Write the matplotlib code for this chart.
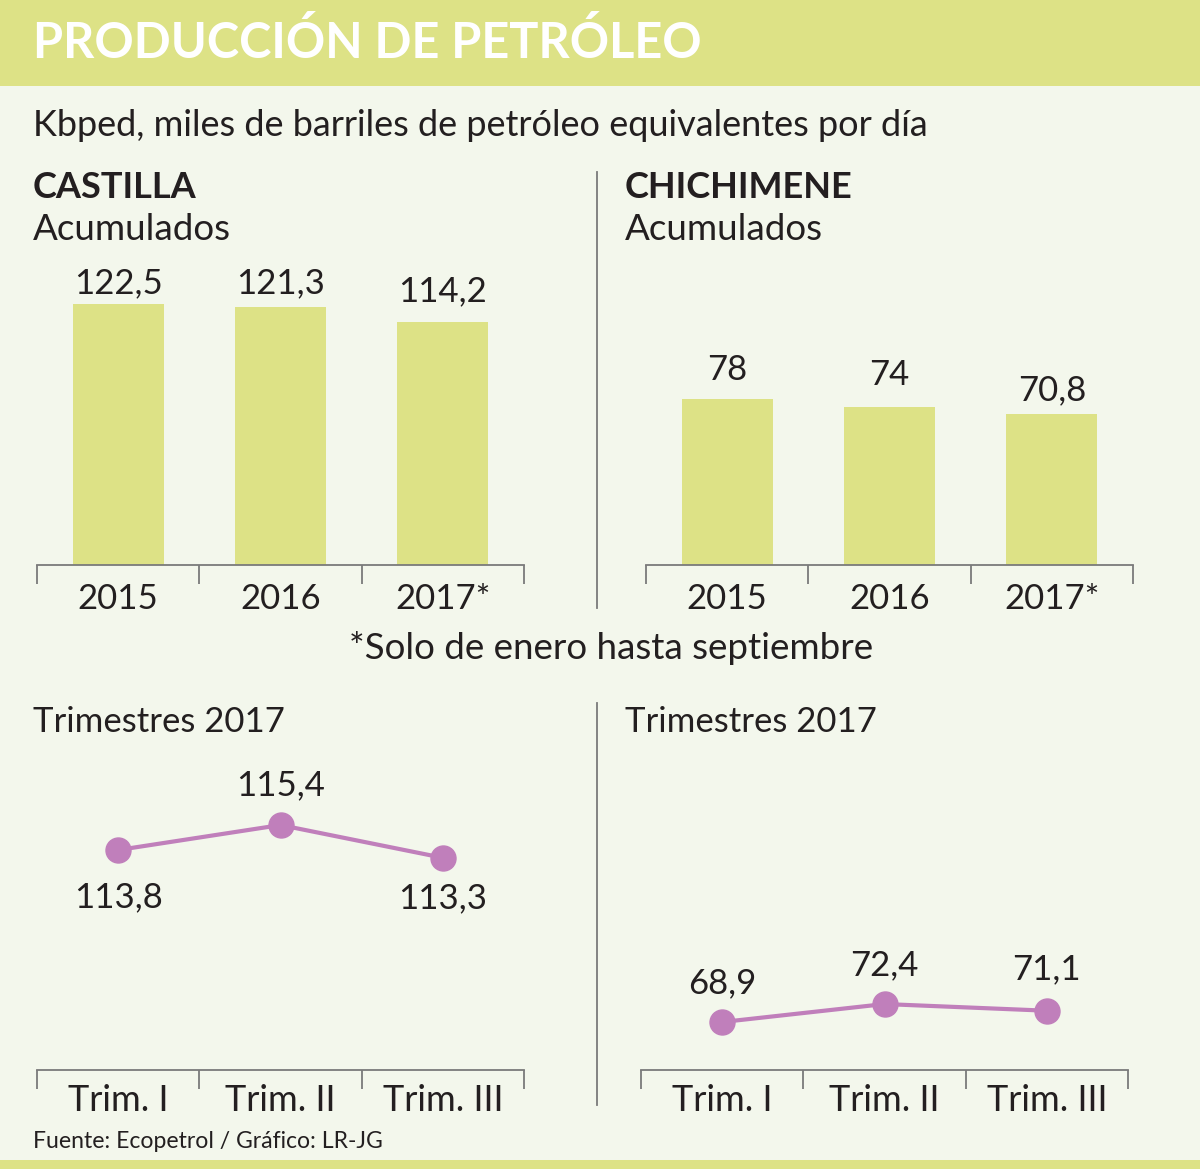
import matplotlib.pyplot as plt

# data
years = ['2015', '2016', '2017*']
castilla = [122.5, 121.3, 114.2]
chichimene = [78, 74, 70.8]
trims = ['Trim. I', 'Trim. II', 'Trim. III']
castilla_trim = [113.8, 115.4, 113.3]
chichimene_trim = [68.9, 72.4, 71.1]

castilla_lbl = ['122,5', '121,3', '114,2']
chichimene_lbl = ['78', '74', '70,8']
castilla_trim_lbl = ['113,8', '115,4', '113,3']
chichimene_trim_lbl = ['68,9', '72,4', '71,1']

W, H = 1200, 1169
bg = '#f3f7ec'
green = '#dde286'
purple = '#c07fbb'
ink = '#231f20'
grey = '#7a7a7a'
font = 'Lato'
lw8 = 'normal'

plt.rcParams['font.family'] = font

fig = plt.figure(figsize=(W/100, H/100), dpi=100, facecolor=bg)


def px_axes(x0, y0, x1, y1):
    # pixel box (top-left origin) -> axes
    return fig.add_axes([x0/W, 1-y1/H, (x1-x0)/W, (y1-y0)/H])


def txt(x, y, s, size, weight=lw8, color=ink, ha='left', va='center'):
    fig.text(x/W, 1-y/H, s, fontsize=size, fontweight=weight, color=color, ha=ha, va=va, family=font)


# header band and bottom band
band = px_axes(0, 0, W, 86)
band.set_facecolor(green)
band.set_xticks([]); band.set_yticks([])
for s in band.spines.values():
    s.set_visible(False)
foot = px_axes(0, 1160, W, H)
foot.set_facecolor(green)
foot.set_xticks([]); foot.set_yticks([])
for s in foot.spines.values():
    s.set_visible(False)

txt(33, 43, 'PRODUCCIÓN DE PETRÓLEO', 35, weight='bold', color='white')
txt(33, 125, 'Kbped, miles de barriles de petróleo equivalentes por día', 26)
txt(33, 187, 'CASTILLA', 26, weight='bold')
txt(33, 230, 'Acumulados', 26.5)
txt(625, 187, 'CHICHIMENE', 26, weight='bold')
txt(625, 230, 'Acumulados', 26.5)
txt(611, 648, '*Solo de enero hasta septiembre', 26.5, ha='center')
txt(33, 722, 'Trimestres 2017', 25)
txt(625, 722, 'Trimestres 2017', 25)
txt(33, 1141, 'Fuente: Ecopetrol / Gráfico: LR-JG', 16.6)

# divider lines
fig.add_artist(plt.Line2D([597/W, 597/W], [1-172/H, 1-608/H], color=grey, lw=1.3))
fig.add_artist(plt.Line2D([597/W, 597/W], [1-703/H, 1-1105/H], color=grey, lw=1.3))


def style_axis(ax, labels, size, pad):
    ax.set_facecolor('none')
    for k in ['top', 'left', 'right']:
        ax.spines[k].set_visible(False)
    ax.spines['bottom'].set_color(grey)
    ax.spines['bottom'].set_linewidth(1.3)
    ax.set_xlim(-0.5, 2.5)
    ax.set_yticks([])
    ax.set_xticks([0, 1, 2])
    ax.set_xticklabels(labels, fontsize=size, fontweight=lw8, color=ink)
    ax.tick_params(axis='x', which='major', length=0, pad=pad)
    ax.set_xticks([-0.5, 0.5, 1.5, 2.5], minor=True)
    ax.tick_params(axis='x', which='minor', length=14, width=1.3, color=grey, direction='out')


def bar_panel(x0, x1, vals, lbls, offsets):
    ax = px_axes(x0, 250, x1, 565)
    style_axis(ax, years, 25, 13)
    top = 315 / 2.13
    ax.set_ylim(0, top)
    ax.bar(range(3), vals, width=0.56, color=green)
    for i, (v, l, o) in enumerate(zip(vals, lbls, offsets)):
        ax.annotate(l, (i, v), xytext=(0, o), textcoords='offset points',
                    ha='center', va='center', fontsize=25, fontweight=lw8, color=ink)


def line_panel(x0, x1, vals, lbls, ylim, offsets):
    ax = px_axes(x0, 740, x1, 1070)
    style_axis(ax, trims, 26, 10)
    ax.set_ylim(*ylim)
    ax.plot(range(3), vals, color=purple, lw=3, marker='o', ms=18, zorder=3)
    for i, (v, l, o) in enumerate(zip(vals, lbls, offsets)):
        ax.annotate(l, (i, v), xytext=(0, o), textcoords='offset points',
                    ha='center', va='center', fontsize=25, fontweight=lw8, color=ink)


bar_panel(37, 524, castilla, castilla_lbl, [15, 17, 22])
bar_panel(646, 1133, chichimene, chichimene_lbl, [21, 23, 17])
line_panel(37, 524, castilla_trim, castilla_trim_lbl, (99.7, 120.85), [-34, 29, -29])
line_panel(641, 1128, chichimene_trim, chichimene_trim_lbl, (59.56, 123.8), [28, 28, 30])

fig.savefig('out.png', dpi=100, facecolor=bg)
